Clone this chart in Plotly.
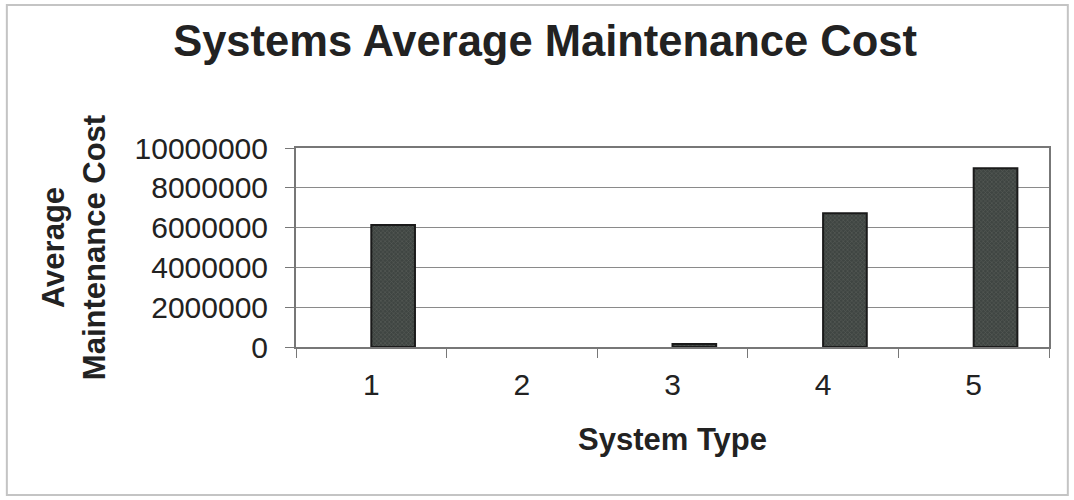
import plotly.graph_objects as go

# Values (system 2 shows no bar)
system_types = ["1", "2", "3", "4", "5"]
avg_cost = [6130000, None, 150000, 6720000, 8980000]
y_ticks = [0, 2000000, 4000000, 6000000, 8000000, 10000000]

FONT = "Liberation Sans, Arial, sans-serif"
INK = "#222222"
GRID = "#8a8a8a"

# bars start at the category centre, as in the original spreadsheet chart
fig = go.Figure(go.Bar(
    x=system_types, y=avg_cost, width=0.29, offset=0,
    marker=dict(color="#4e5451", line=dict(color="#1a1a1a", width=2),
                pattern=dict(shape="x", size=3, solidity=0.35,
                             fgcolor="#6e7470", bgcolor="#3f4542")),
    hovertemplate="%{x}<br>%{y:,.0f}<extra></extra>"))

fig.update_layout(
    width=1074, height=500,
    paper_bgcolor="white", plot_bgcolor="white",
    font=dict(family=FONT, color=INK),
    margin=dict(l=296, r=25, t=148, b=153),
    showlegend=False,
    title=dict(text="<b>Systems Average Maintenance Cost</b>",
               font=dict(size=43.5, color=INK), x=0.5075, xanchor="center",
               y=0.918, yanchor="middle"),
    shapes=[dict(type="rect", xref="paper", yref="paper",
                 x0=-0.384, x1=1.025, y0=-0.744, y1=1.719,
                 line=dict(color="#c4c4c4", width=2))],
)

fig.update_xaxes(
    type="category", tickson="boundaries", ticks="outside", ticklen=9,
    tickcolor="#777", showline=True, linecolor="#777", linewidth=2, mirror=True,
    showgrid=False, tickfont=dict(size=30, color=INK), ticklabelstandoff=10,
    title=dict(text="<b>System Type</b>", font=dict(size=31, color=INK), standoff=28),
)
fig.update_yaxes(
    range=[0, 10000000], tickvals=y_ticks, ticktext=[str(v) for v in y_ticks],
    ticks="outside", ticklen=9, tickcolor="#777", ticklabelstandoff=11,
    showline=True, linecolor="#777", linewidth=2, mirror=True,
    showgrid=True, gridcolor=GRID, gridwidth=1, zeroline=False,
    tickfont=dict(size=30, color=INK),
    title=dict(text="<b>Average<br>Maintenance Cost</b>", font=dict(size=31, color=INK),
               standoff=20),
)

fig.write_html("out.html", config={"displayModeBar": False},
               post_script="document.body.style.margin='0px';")
